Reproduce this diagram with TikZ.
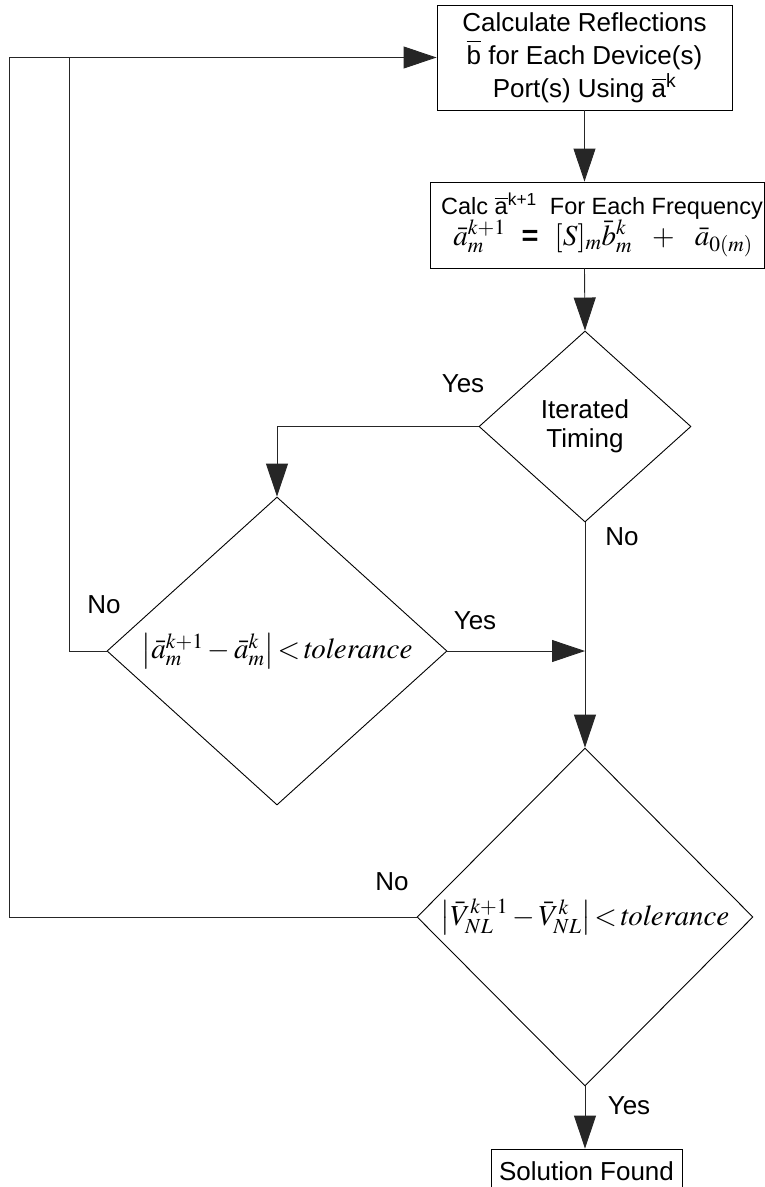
\documentclass[tikz,border=0pt]{standalone}
\usepackage{mathptmx}
\usepackage[no-math]{fontspec}
\setmainfont{Liberation Sans}
\usetikzlibrary{shapes.geometric,arrows.meta}
\begin{document}
\begin{tikzpicture}[x=1pt,y=-1pt,
  line width=0.9pt,
  box/.style={draw, rectangle, inner sep=0pt, align=center, font=\fontsize{26}{33}\selectfont},
  dia/.style={draw, diamond, inner sep=0pt},
  lbl/.style={font=\fontsize{26}{29}\selectfont, inner sep=0pt, align=center},
  mth/.style={font=\fontsize{29}{31}\selectfont, inner sep=0pt},
  conn/.style={draw=black!85, line width=0.9pt},
  arr/.style={conn, -{Triangle[length=33pt,width=22pt]}},
]
\useasboundingbox (0,0) rectangle (765,1187);

\node[box, minimum width=295pt, minimum height=105pt] (calc) at (584.5,57.5)
  {Calculate Reflections\\ $\overline{\mbox{b}}$ for Each Device(s)\\ Port(s) Using $\overline{\mbox{a}}$\textsuperscript{k}};

\node[box, minimum width=334pt, minimum height=86pt] (calc2) at (597,225)
  {{\fontsize{23.5}{30}\selectfont\hspace*{10pt}Calc $\overline{\mbox{a}}$\textsuperscript{k+1}\ \ For Each Frequency}\\[-2pt]
   {\fontsize{29}{30}\selectfont\hspace*{12pt}$\bar{a}_m^{k+1}\ \ \mbox{\textbf{=}}\ \ [S]_m\bar{b}_m^k\ \ +\ \ \bar{a}_{0(m)}$}};

\node[dia, minimum width=212pt, minimum height=191pt,
  label={[lbl]center:Iterated\\Timing}] (d1) at (585,426.5) {};

\node[dia, minimum width=340pt, minimum height=308pt,
  label={[mth]center:$\left|\bar{a}_m^{k+1}-\bar{a}_m^k\right|\!<\!\mathit{tolerance}$}] (d2) at (277,651) {};

\node[dia, minimum width=336pt, minimum height=338pt,
  label={[mth]center:$\left|\bar{V}_{NL}^{k+1}-\bar{V}_{NL}^k\right|\!<\!\mathit{tolerance}$}] (d3) at (585,917) {};

\node[box, minimum width=191pt, minimum height=44pt] (sol) at (586.5,1171) {Solution Found};

\node[lbl] (yes1) at (463,384) {Yes};
\node[lbl] (no1) at (622,537) {No};
\node[lbl] (no2) at (104,605) {No};
\node[lbl] (yes2) at (475,621) {Yes};
\node[lbl] (no3) at (392,882) {No};
\node[lbl] (yes3) at (629,1106) {Yes};

\coordinate (outer) at (9,57.5);
\coordinate (inner) at (69,57.5);

\draw[arr] (calc.south) -- (calc.south |- calc2.north);
\draw[arr] (calc.south |- calc2.south) -- (d1.north);
\draw[arr] (d1.west) -| (d2.north);
\draw[arr] (d1.south) -- (d3.north);
\draw[arr] (d2.east) -- (d2.east -| d1.south);
\draw[arr] (d3.south) -- (d3.south |- sol.north);
\draw[arr] (d3.west) -| (outer) -- (calc.west);
\draw[conn] (d2.west) -| (inner);
\end{tikzpicture}
\end{document}
